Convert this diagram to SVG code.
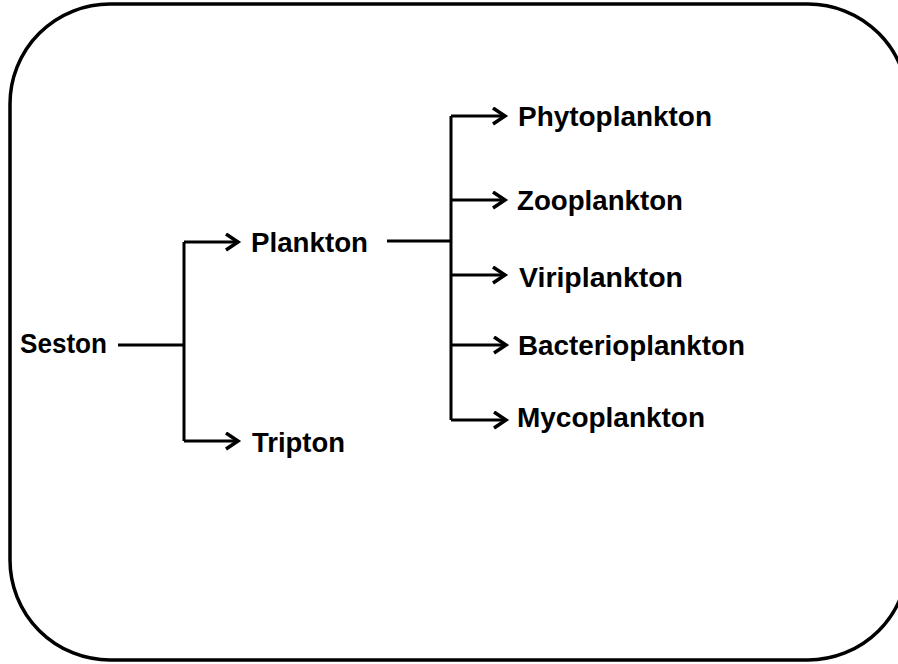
<svg xmlns="http://www.w3.org/2000/svg" width="898" height="664" viewBox="0 0 898 664">
<style>
.t{font-family:"Liberation Sans",Arial,sans-serif;font-weight:bold;font-size:27px;fill:#000}
.c{stroke:#000;stroke-width:3;fill:none}
</style>
<defs>
<marker id="ah" markerUnits="userSpaceOnUse" markerWidth="20" markerHeight="20" refX="14" refY="9" orient="auto">
<path d="M2,1 L14,9 L2,17" fill="none" stroke="#000" stroke-width="3.5" stroke-linejoin="miter"/>
</marker>
</defs>
<rect id="frame" x="10" y="4" width="898" height="656" rx="100" ry="100" fill="#fff" stroke="#000" stroke-width="3.5"/>
<g id="connectors" class="c">
<path d="M118,345 H184"/>
<path d="M184,242 V441"/>
<path d="M184,242 H238" marker-end="url(#ah)"/>
<path d="M184,441 H238" marker-end="url(#ah)"/>
<path d="M387,241 H451"/>
<path d="M451,116 V420"/>
<path d="M451,116 H505" marker-end="url(#ah)"/>
<path d="M451,200 H505" marker-end="url(#ah)"/>
<path d="M451,275 H505" marker-end="url(#ah)"/>
<path d="M451,345 H506" marker-end="url(#ah)"/>
<path d="M451,420 H506" marker-end="url(#ah)"/>
</g>
<g id="seston"><text class="t" x="20" y="353" textLength="87" lengthAdjust="spacingAndGlyphs">Seston</text></g>
<g id="plankton"><text class="t" x="251" y="252" textLength="117" lengthAdjust="spacingAndGlyphs">Plankton</text></g>
<g id="tripton"><text class="t" x="252" y="452" textLength="93" lengthAdjust="spacingAndGlyphs">Tripton</text></g>
<g id="phytoplankton"><text class="t" x="518" y="126" textLength="194" lengthAdjust="spacingAndGlyphs">Phytoplankton</text></g>
<g id="zooplankton"><text class="t" x="517" y="210" textLength="166" lengthAdjust="spacingAndGlyphs">Zooplankton</text></g>
<g id="viriplankton"><text class="t" x="519" y="287" textLength="164" lengthAdjust="spacingAndGlyphs">Viriplankton</text></g>
<g id="bacterioplankton"><text class="t" x="518" y="355" textLength="227" lengthAdjust="spacingAndGlyphs">Bacterioplankton</text></g>
<g id="mycoplankton"><text class="t" x="517" y="427" textLength="188" lengthAdjust="spacingAndGlyphs">Mycoplankton</text></g>
</svg>
